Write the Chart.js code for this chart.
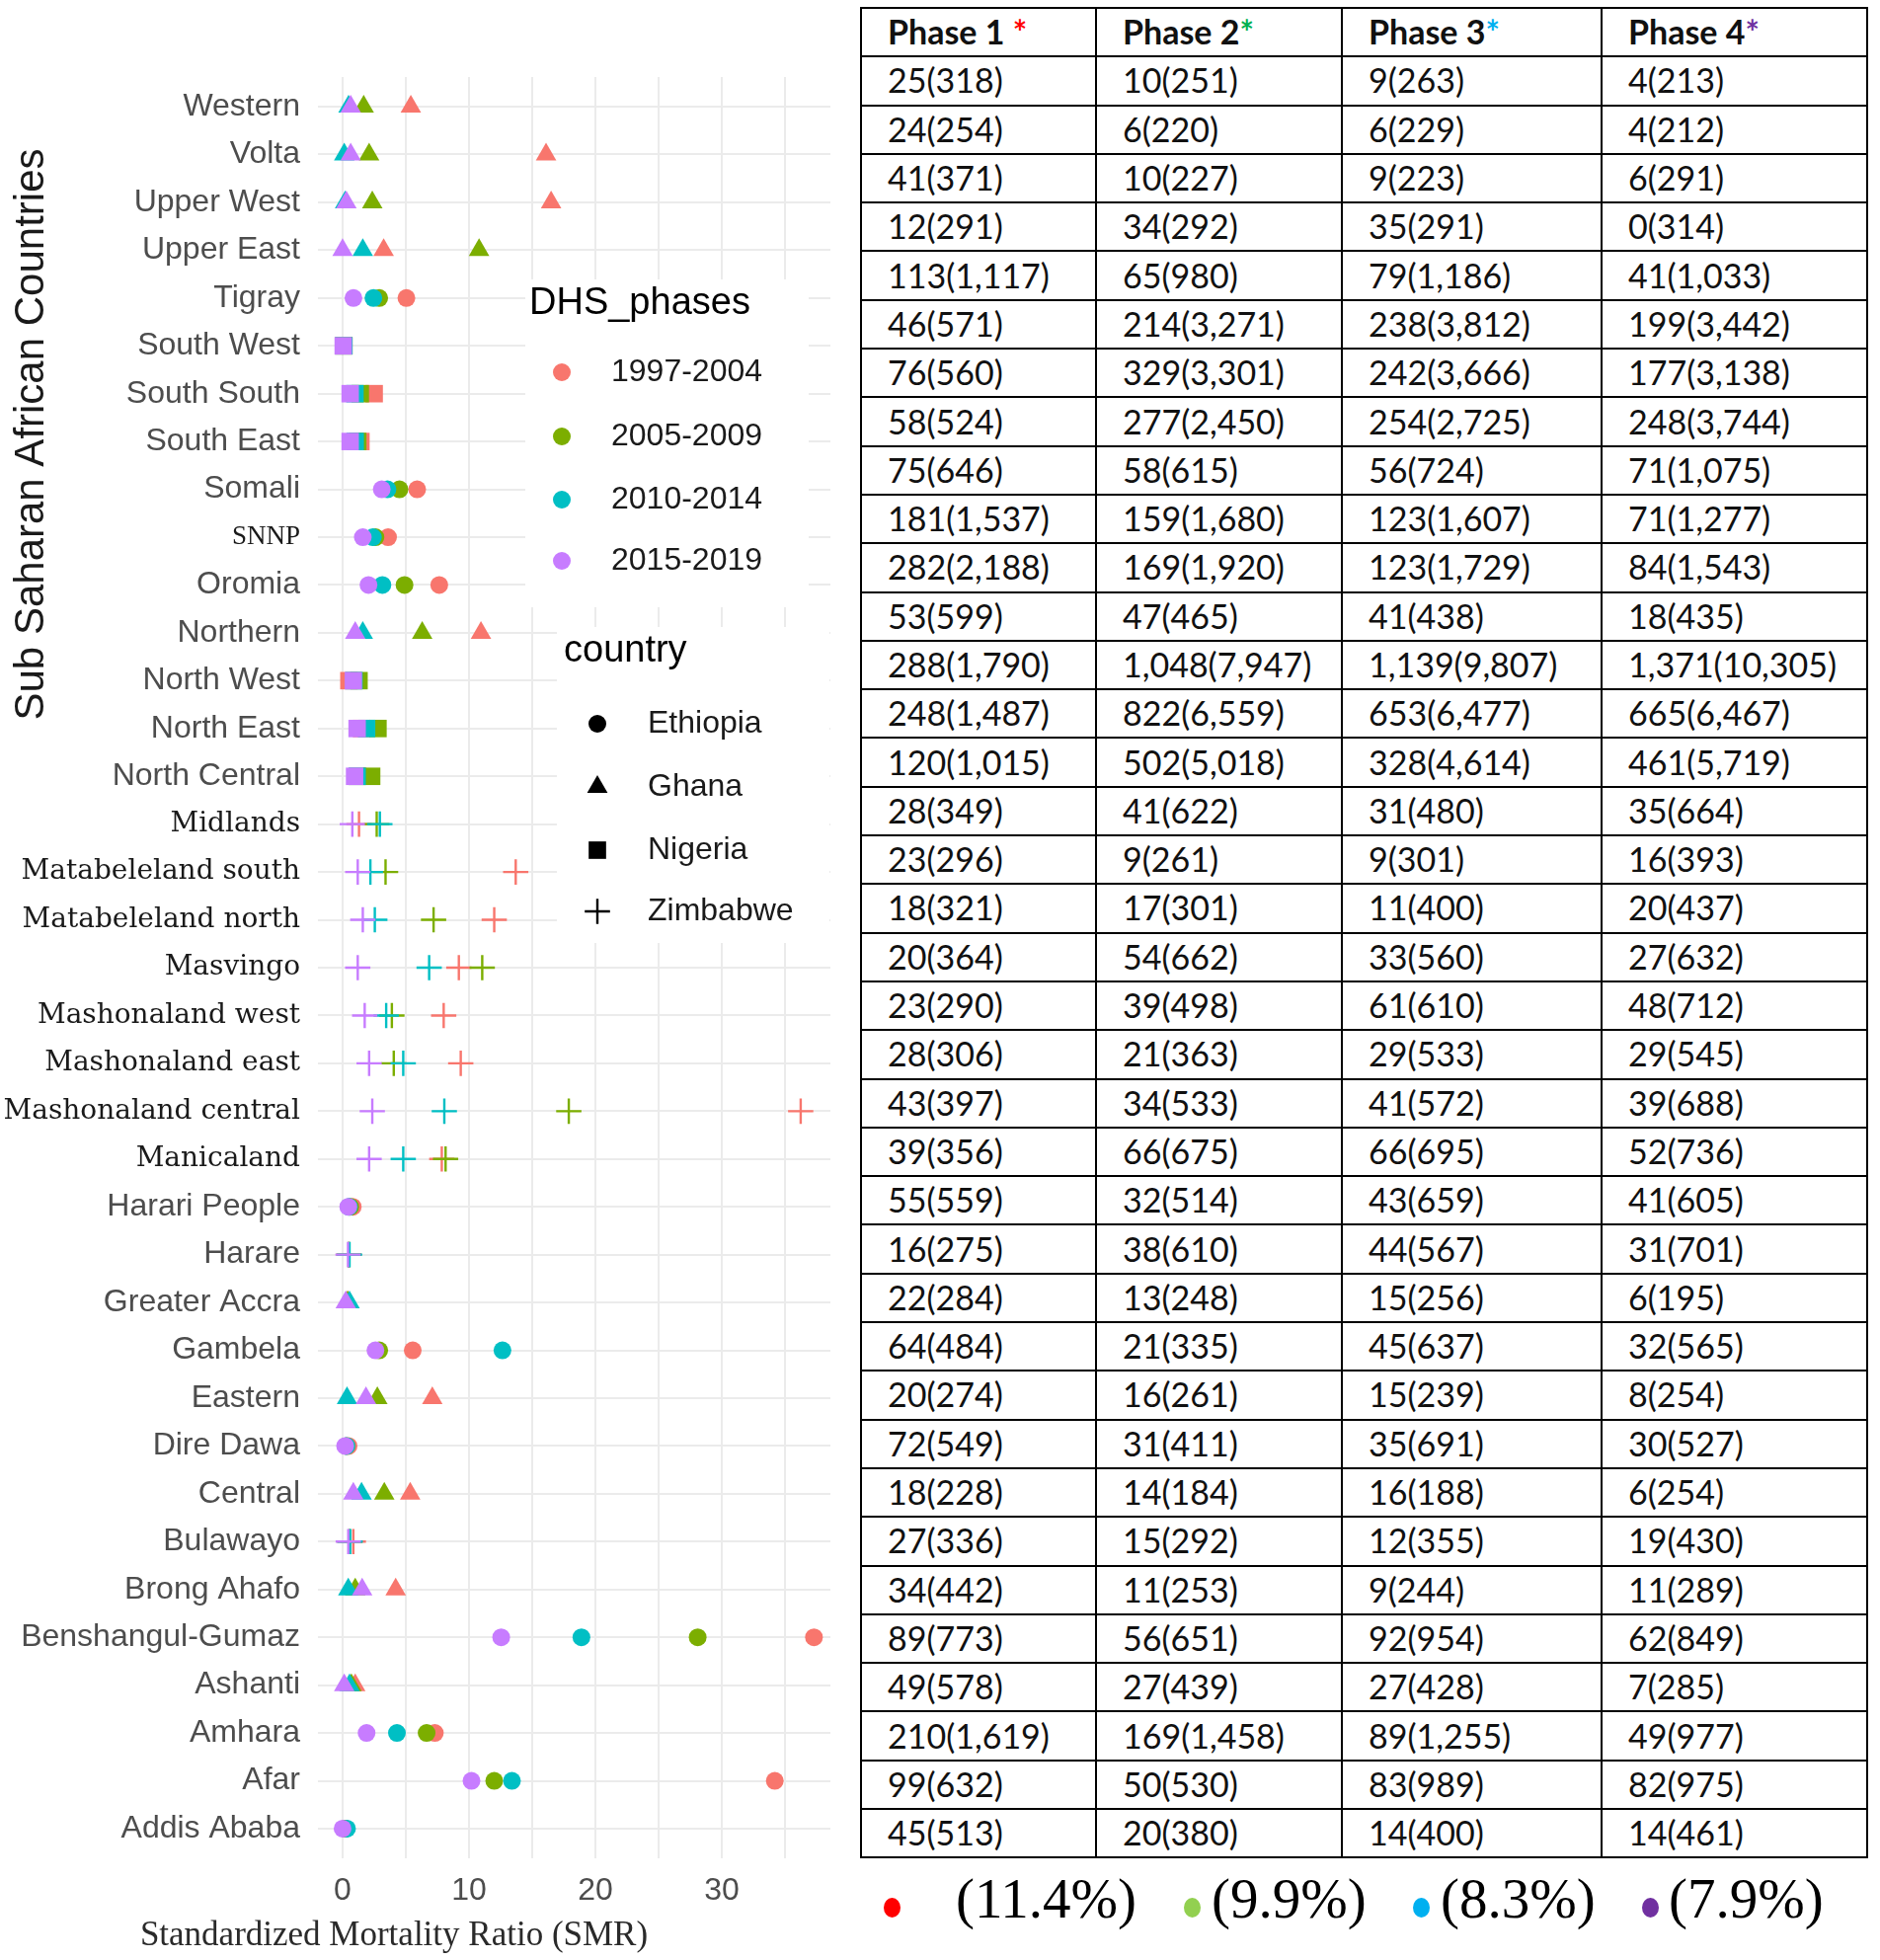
<!DOCTYPE html>
<html>
<head>
<meta charset="utf-8">
<script src="https://cdn.jsdelivr.net/npm/chart.js@4.4.1/dist/chart.umd.min.js"></script>
<style>
  body { margin: 0; background: #fff; width: 1904px; height: 1985px; position: relative; overflow: hidden; }
  #kotakPlot { position: absolute; left: 0; top: 0; width: 860px; height: 1985px; }
  #tabel { position: absolute; left: 871px; top: 7px; border-collapse: collapse; table-layout: fixed;
           font-family: Lato, sans-serif; font-size: 34px; color: #111; }
  #tabel td, #tabel th { border: 2px solid #000; padding: 0 0 2px 26px; text-align: left; white-space: nowrap; }
  #tabel tr { height: 49.3px; }
  #tabel th { font-weight: bold; }
  .persen { position: absolute; font-family: "Liberation Serif", serif; font-size: 57px; color: #000; top: 1890px; }
  .titik { position: absolute; width: 17px; height: 20px; border-radius: 50%; top: 1922px; }
</style>
</head>
<body>
<div id="kotakPlot"><canvas id="grafikSMR"></canvas></div>
<table id="tabel"></table>
<div id="legendaBawah"></div>

<script>
// ---- data plot, urutan dari atas ke bawah ----
const regions = ['Western', 'Volta', 'Upper West', 'Upper East', 'Tigray', 'South West', 'South South',
  'South East', 'Somali', 'SNNP', 'Oromia', 'Northern', 'North West', 'North East', 'North Central',
  'Midlands', 'Matabeleland south', 'Matabeleland north', 'Masvingo', 'Mashonaland west',
  'Mashonaland east', 'Mashonaland central', 'Manicaland', 'Harari People', 'Harare', 'Greater Accra',
  'Gambela', 'Eastern', 'Dire Dawa', 'Central', 'Bulawayo', 'Brong Ahafo', 'Benshangul-Gumaz',
  'Ashanti', 'Amhara', 'Afar', 'Addis Ababa'];
const regionCountry = ['Ghana', 'Ghana', 'Ghana', 'Ghana', 'Ethiopia', 'Nigeria', 'Nigeria',
  'Nigeria', 'Ethiopia', 'Ethiopia', 'Ethiopia', 'Ghana', 'Nigeria', 'Nigeria', 'Nigeria',
  'Zimbabwe', 'Zimbabwe', 'Zimbabwe', 'Zimbabwe', 'Zimbabwe',
  'Zimbabwe', 'Zimbabwe', 'Zimbabwe', 'Ethiopia', 'Zimbabwe', 'Ghana',
  'Ethiopia', 'Ghana', 'Ethiopia', 'Ghana', 'Zimbabwe', 'Ghana', 'Ethiopia',
  'Ghana', 'Ethiopia', 'Ethiopia', 'Ethiopia'];

const phaseLabels = ['1997-2004', '2005-2009', '2010-2014', '2015-2019'];
const smr1997 = [5.4, 16.1, 16.5, 3.25, 5.05, 0.1, 2.5, 1.45, 5.9, 3.6, 7.65, 10.95, 0.5, 1.5, 1.2,
  1.3, 13.7, 12.0, 9.2, 8.0, 9.35, 36.25, 7.85, 0.8, 0.5, 0.4, 5.55, 7.1, 0.47, 5.35, 0.85, 4.2, 37.3,
  1.0, 7.3, 34.2, 0.2];
const smr2005 = [1.67, 2.1, 2.35, 10.8, 2.9, 0.1, 1.4, 1.2, 4.5, 2.6, 4.9, 6.3, 1.3, 2.8, 2.3,
  2.7, 3.4, 7.2, 11.05, 3.9, 4.05, 17.9, 8.15, 0.6, 0.5, 0.4, 2.9, 2.75, 0.3, 3.3, 0.55, 1.0, 28.1,
  0.7, 6.65, 12.0, 0.2];
const smr2010 = [0.47, 0.13, 0.2, 1.6, 2.44, 0.1, 0.98, 1.0, 3.55, 2.4, 3.15, 1.6, 0.9, 1.9, 1.15,
  2.95, 2.2, 2.55, 6.85, 3.45, 4.8, 8.05, 4.8, 0.5, 0.55, 0.55, 12.65, 0.35, 0.3, 1.5, 0.6, 0.45, 18.9,
  0.55, 4.3, 13.4, 0.35];
const smr2015 = [0.64, 0.64, 0.3, 0.0, 0.86, 0.05, 0.6, 0.6, 3.1, 1.6, 2.05, 1.0, 0.85, 1.15, 0.95,
  0.77, 1.2, 1.6, 1.2, 1.75, 2.1, 2.35, 2.1, 0.45, 0.43, 0.25, 2.6, 1.85, 0.2, 0.85, 0.45, 1.55, 12.55,
  0.13, 1.9, 10.2, 0.0];
const xTicks = [0, 10, 20, 30];

// ---- data tabel: kematian(total) per fase ----
const phaseNames = ['Phase 1 ', 'Phase 2', 'Phase 3', 'Phase 4'];
const deaths1 = [25, 24, 41, 12, 113, 46, 76, 58, 75, 181, 282, 53, 288, 248, 120, 28, 23, 18, 20, 23, 28, 43, 39, 55, 16, 22, 64, 20, 72, 18, 27, 34, 89, 49, 210, 99, 45];
const totals1 = [318, 254, 371, 291, 1117, 571, 560, 524, 646, 1537, 2188, 599, 1790, 1487, 1015, 349, 296, 321, 364, 290, 306, 397, 356, 559, 275, 284, 484, 274, 549, 228, 336, 442, 773, 578, 1619, 632, 513];
const deaths2 = [10, 6, 10, 34, 65, 214, 329, 277, 58, 159, 169, 47, 1048, 822, 502, 41, 9, 17, 54, 39, 21, 34, 66, 32, 38, 13, 21, 16, 31, 14, 15, 11, 56, 27, 169, 50, 20];
const totals2 = [251, 220, 227, 292, 980, 3271, 3301, 2450, 615, 1680, 1920, 465, 7947, 6559, 5018, 622, 261, 301, 662, 498, 363, 533, 675, 514, 610, 248, 335, 261, 411, 184, 292, 253, 651, 439, 1458, 530, 380];
const deaths3 = [9, 6, 9, 35, 79, 238, 242, 254, 56, 123, 123, 41, 1139, 653, 328, 31, 9, 11, 33, 61, 29, 41, 66, 43, 44, 15, 45, 15, 35, 16, 12, 9, 92, 27, 89, 83, 14];
const totals3 = [263, 229, 223, 291, 1186, 3812, 3666, 2725, 724, 1607, 1729, 438, 9807, 6477, 4614, 480, 301, 400, 560, 610, 533, 572, 695, 659, 567, 256, 637, 239, 691, 188, 355, 244, 954, 428, 1255, 989, 400];
const deaths4 = [4, 4, 6, 0, 41, 199, 177, 248, 71, 71, 84, 18, 1371, 665, 461, 35, 16, 20, 27, 48, 29, 39, 52, 41, 31, 6, 32, 8, 30, 6, 19, 11, 62, 7, 49, 82, 14];
const totals4 = [213, 212, 291, 314, 1033, 3442, 3138, 3744, 1075, 1277, 1543, 435, 10305, 6467, 5719, 664, 393, 437, 632, 712, 545, 688, 736, 605, 701, 195, 565, 254, 527, 254, 430, 289, 849, 285, 977, 975, 461];
const percentLabels = ['(11.4%)', '(9.9%)', '(8.3%)', '(7.9%)'];

// ---- warna & gaya ----
const phaseColors = ['#F8766D', '#7CAE00', '#00BFC4', '#C77CFF'];
const starColors = ['#ff0000', '#00b050', '#00b0f0', '#7030a0'];
const dotColors = ['#ff0000', '#92d050', '#00b0f0', '#7030a0'];
const countryNames = ['Ethiopia', 'Ghana', 'Nigeria', 'Zimbabwe'];
const countryStyle = { Ethiopia: 'circle', Ghana: 'triangle', Nigeria: 'rect', Zimbabwe: 'cross' };
const countryRadius = { Ethiopia: 9, Ghana: 12, Nigeria: 12.5, Zimbabwe: 12.8 };
const serifLabels = ['Midlands', 'Matabeleland south', 'Matabeleland north', 'Masvingo', 'Mashonaland west',
  'Mashonaland east', 'Mashonaland central', 'Manicaland'];

// gambar simbol legenda (bentuk sama dengan pointStyle Chart.js)
function gambarSimbol(ctx, gaya, x, y, r, warna) {
  ctx.save();
  ctx.fillStyle = warna;
  ctx.strokeStyle = warna;
  ctx.beginPath();
  if (gaya === 'circle') {
    ctx.arc(x, y, r, 0, Math.PI * 2);
    ctx.fill();
  } else if (gaya === 'triangle') {
    ctx.moveTo(x, y - r);
    ctx.lineTo(x + r * 0.866, y + r * 0.5);
    ctx.lineTo(x - r * 0.866, y + r * 0.5);
    ctx.closePath();
    ctx.fill();
  } else if (gaya === 'rect') {
    const s = r / Math.SQRT2;
    ctx.rect(x - s, y - s, 2 * s, 2 * s);
    ctx.fill();
  } else {
    ctx.lineWidth = 2.4;
    ctx.moveTo(x - r, y); ctx.lineTo(x + r, y);
    ctx.moveTo(x, y - r); ctx.lineTo(x, y + r);
    ctx.stroke();
  }
  ctx.restore();
}

const pluginTeks = {
  id: 'pluginTeks',
  afterDraw(chart) {
    const ctx = chart.ctx;
    // judul sumbu y
    ctx.save();
    ctx.translate(32, 440);
    ctx.rotate(-Math.PI / 2);
    ctx.font = '42px "Liberation Sans"';
    ctx.fillStyle = '#1a1a1a';
    ctx.textAlign = 'center';
    ctx.textBaseline = 'middle';
    ctx.fillText('Sub Saharan African Countries', 0, 0);
    ctx.restore();

    // judul sumbu x
    ctx.save();
    ctx.font = '35px "Liberation Serif"';
    ctx.fillStyle = '#2a2a2a';
    ctx.textAlign = 'center';
    ctx.textBaseline = 'middle';
    ctx.fillText('Standardized Mortality Ratio (SMR)', 399, 1961);
    ctx.restore();

    // kotak legenda
    ctx.save();
    ctx.fillStyle = '#fff';
    ctx.fillRect(532, 283, 287, 332);
    ctx.fillRect(564, 635, 276, 320);
    ctx.fillStyle = '#000';
    ctx.textBaseline = 'middle';
    ctx.font = '38px "Liberation Sans"';
    ctx.fillText('DHS_phases', 536, 308);
    ctx.fillText('country', 571, 660);
    ctx.font = '32px "Liberation Sans"';
    const yFase = [377, 442, 506, 568];
    phaseLabels.forEach(function (lbl, i) {
      gambarSimbol(ctx, 'circle', 569, yFase[i], 9, phaseColors[i]);
      ctx.fillStyle = '#1a1a1a';
      ctx.fillText(lbl, 619, yFase[i]);
    });
    const yNegara = [733, 797, 861, 923];
    countryNames.forEach(function (nm, i) {
      gambarSimbol(ctx, countryStyle[nm], 605, yNegara[i], countryRadius[nm], '#000');
      ctx.fillStyle = '#1a1a1a';
      ctx.fillText(nm, 656, yNegara[i]);
    });
    ctx.restore();
  }
};

const semuaSMR = [smr1997, smr2005, smr2010, smr2015];
const datasetSMR = semuaSMR.map(function (nilai, f) {
  return {
    label: phaseLabels[f],
    data: nilai.map(function (v, i) { return { x: v, y: i }; }),
    showLine: false,
    order: 4 - f,
    pointStyle: regionCountry.map(function (c) { return countryStyle[c]; }),
    pointRadius: regionCountry.map(function (c) { return countryRadius[c]; }),
    pointBackgroundColor: phaseColors[f],
    pointBorderColor: phaseColors[f],
    pointBorderWidth: regionCountry.map(function (c) { return c === 'Zimbabwe' ? 2.4 : 0; })
  };
});

new Chart(document.getElementById('grafikSMR'), {
  type: 'scatter',
  data: { datasets: datasetSMR },
  options: {
    responsive: true,
    maintainAspectRatio: false,
    animation: false,
    events: [],
    layout: { padding: { top: 78, right: 19, bottom: 0, left: 0 } },
    plugins: { legend: { display: false }, tooltip: { enabled: false } },
    scales: {
      x: {
        type: 'linear', min: -1.95, max: 38.6,
        afterBuildTicks: function (ax) { ax.ticks = [0, 5, 10, 15, 20, 25, 30, 35].map(function (v) { return { value: v }; }); },
        afterFit: function (ax) { ax.height = 103; },
        border: { display: false },
        grid: { color: '#ebebeb', lineWidth: 2, drawTicks: false },
        ticks: {
          padding: 14, color: '#4d4d4d', maxRotation: 0, autoSkip: false,
          font: { family: 'Liberation Sans', size: 32 },
          callback: function (v) { return xTicks.includes(v) ? String(v) : ''; }
        }
      },
      y: {
        type: 'linear', reverse: true, min: -0.62, max: 36.62,
        afterBuildTicks: function (ax) { ax.ticks = regions.map(function (r, i) { return { value: i }; }); },
        afterFit: function (ax) { ax.width = 322; },
        border: { display: false },
        grid: { color: '#ebebeb', lineWidth: 2, drawTicks: false },
        ticks: {
          padding: 18, autoSkip: false,
          callback: function (v) { return regions[v]; },
          color: function (c) { return serifLabels.includes(regions[c.index]) || regions[c.index] === 'SNNP' ? '#1a1a1a' : '#4d4d4d'; },
          font: function (c) {
            const nm = regions[c.index];
            if (serifLabels.includes(nm)) return { family: 'DejaVu Serif', size: 28 };
            if (nm === 'SNNP') return { family: 'Liberation Serif', size: 27 };
            return { family: 'Liberation Sans', size: 32 };
          }
        }
      }
    }
  },
  plugins: [pluginTeks]
});

// ---- tabel ----
function sel(d, t) {
  return d.toLocaleString('en-US') + '(' + t.toLocaleString('en-US') + ')';
}
const tabel = document.getElementById('tabel');
let isi = '<colgroup><col style="width:238px"><col style="width:249px"><col style="width:263px"><col style="width:269px"></colgroup>';
isi += '<tr>' + phaseNames.map(function (p, i) {
  return '<th>' + p + '<span style="color:' + starColors[i] + '">*</span></th>';
}).join('') + '</tr>';
const kolomD = [deaths1, deaths2, deaths3, deaths4];
const kolomT = [totals1, totals2, totals3, totals4];
regions.forEach(function (r, i) {
  isi += '<tr>';
  for (let k = 0; k < 4; k++) isi += '<td>' + sel(kolomD[k][i], kolomT[k][i]) + '</td>';
  isi += '</tr>';
});
tabel.innerHTML = isi;

// ---- legenda persen di bawah tabel ----
const posTitik = [895, 1199, 1431, 1663];
const posTeks = [968, 1227, 1459, 1690];
const legendaBawah = document.getElementById('legendaBawah');
percentLabels.forEach(function (p, i) {
  const t = document.createElement('div');
  t.className = 'titik';
  t.style.left = posTitik[i] + 'px';
  t.style.background = dotColors[i];
  legendaBawah.appendChild(t);
  const s = document.createElement('div');
  s.className = 'persen';
  s.style.left = posTeks[i] + 'px';
  s.innerText = p;
  legendaBawah.appendChild(s);
});
</script>
</body>
</html>
